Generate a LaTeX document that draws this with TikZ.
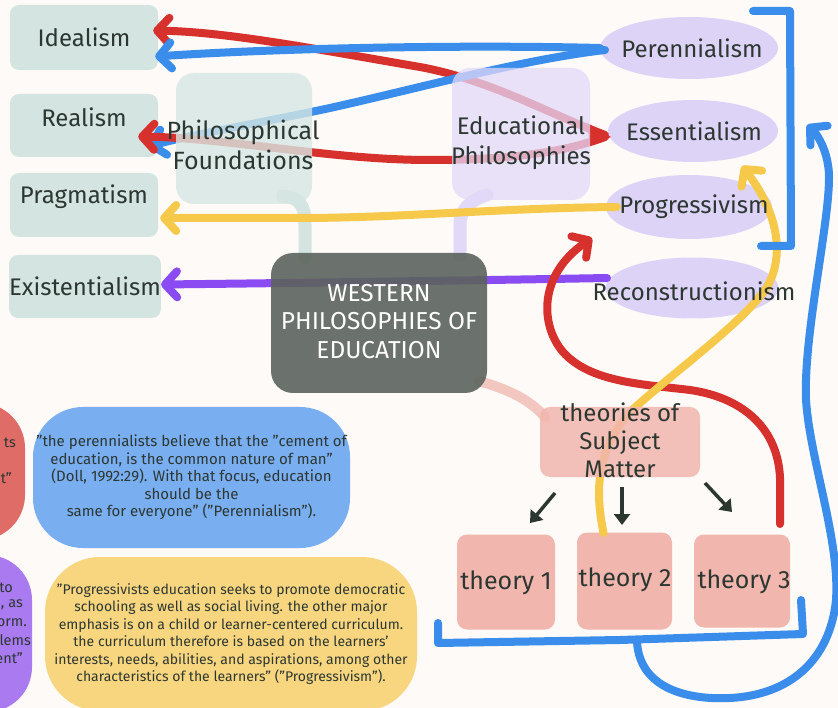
\documentclass[tikz,border=0pt]{standalone}
\usepackage{fontspec}
\setmainfont{Fira Sans}
\usetikzlibrary{arrows.meta,shapes.geometric}
\definecolor{bgc}{HTML}{FDFAF7}
\definecolor{tealbox}{HTML}{D4E4E1}
\definecolor{pfbox}{HTML}{D6E7E3}
\definecolor{lavell}{HTML}{DDD3F7}
\definecolor{educbox}{HTML}{E2D9F8}
\definecolor{darkbox}{HTML}{5C635D}
\definecolor{pinkbox}{HTML}{F1B6AE}
\definecolor{pinkline}{HTML}{F3C6C0}
\definecolor{redc}{HTML}{D7312D}
\definecolor{bluec}{HTML}{3A8DEB}
\definecolor{yellowc}{HTML}{F6C94A}
\definecolor{purplec}{HTML}{8A4CF2}
\definecolor{inkc}{HTML}{2D3732}
\definecolor{qblue}{HTML}{79AEF0}
\definecolor{qyellow}{HTML}{F8D67F}
\definecolor{qred}{HTML}{E06C68}
\definecolor{qpurple}{HTML}{A97AF0}
\begin{document}
\begin{tikzpicture}[x=1pt,y=-1pt,
  lbox/.style={fill=tealbox, draw=none, rounded corners=9pt, inner sep=0pt,
    text=inkc, font=\fontsize{24}{28}\selectfont},
  lavel/.style={ellipse, fill=lavell, draw=none, inner sep=0pt},
  tbox/.style={fill=pinkbox, draw=none, rounded corners=10pt, inner sep=0pt},
  labeltext/.style={text=inkc, font=\fontsize{24}{30}\selectfont, align=center, inner sep=0pt},
  quote/.style={draw=none, inner sep=0pt, text=inkc, align=center,
    font=\fontsize{15}{17.5}\selectfont},
  frag/.style={text=inkc, inner sep=0pt, anchor=east, font=\fontsize{14.5}{17.5}\selectfont},
  arr/.style={line width=8pt, line cap=round, line join=round,
    -{Straight Barb[round,length=12pt,width=26pt]}},
  plain/.style={line width=8pt, line cap=round, line join=round},
  darkarrow/.style={draw=inkc, line width=3.5pt, -{Triangle[length=11pt,width=16pt]}},
  paleline/.style={line width=13pt, line cap=round, line join=round}
]
\clip (0,0) rectangle (838,708);
\fill[bgc] (0,0) rectangle (838,708);

% quote boxes
\node[quote, fill=qred, rounded corners=45pt, minimum width=125pt, minimum height=137pt] (quotered) at (-37.5,471.5) {};
\node[frag] (qr1) at (16,443) {ts};
\node[frag] (qr2) at (12,478) {t"};
\node[quote, fill=qpurple, rounded corners=45pt, minimum width=132pt, minimum height=157pt] (quotepurple) at (-34,633.5) {};
\node[frag] (qp1) at (13,588) {to};
\node[frag] (qp2) at (23,605) {, as};
\node[frag] (qp3) at (27,623) {orm.};
\node[frag] (qp4) at (31,640) {lems};
\node[frag] (qp5) at (23,658) {ent"};
\node[quote, fill=qblue, rounded corners=50pt, minimum width=317pt, minimum height=141pt] (quoteblue) at (191.5,477.5)
  {"the perennialists believe that the "cement of\\education, is the common nature of man"\\(Doll, 1992:29). With that focus, education\\should be the\\same for everyone" ("Perennialism").};
\node[quote, fill=qyellow, rounded corners=55pt, minimum width=372pt, minimum height=154pt, font=\fontsize{14}{17.4}\selectfont] (quoteyellow) at (231,634)
  {"Progressivists education seeks to promote democratic\\schooling as well as social living. the other major\\emphasis is on a child or learner-centered curriculum.\\the curriculum therefore is based on the learners'\\interests, needs, abilities, and aspirations, among other\\characteristics of the learners" ("Progressivism").};

% left boxes
\node[lbox, minimum width=148pt, minimum height=65pt] (idealism) at (84,37.5) {Idealism};
\node[lbox, minimum width=148pt, minimum height=63pt] (realism) at (84,125.5) {\raisebox{8pt}[\height][\depth]{Realism}};
\node[lbox, minimum width=148pt, minimum height=64pt] (pragmatism) at (84,205) {\raisebox{8pt}[\height][\depth]{Pragmatism}};
\node[lbox, minimum width=150pt, minimum height=63pt] (existentialism) at (85,286.5) {Existentialism};

% ellipses
\node[lavel, minimum width=178pt, minimum height=62pt] (perennialism) at (689,48) {};
\node[lavel, minimum width=170pt, minimum height=62pt] (essentialism) at (693,131) {};
\node[lavel, minimum width=166pt, minimum height=64pt] (progressivism) at (689,207) {};
\node[lavel, minimum width=173pt, minimum height=61pt] (reconstr) at (692,288) {};

% hub box centres
\coordinate (pfc) at (244,138.5);
\coordinate (epc) at (521,134);
\coordinate (wc) at (379,323);
\coordinate (tc) at (620,442);

% pale connectors
\draw[paleline, draw=tealbox] ([shift={(39,57.5)}]pfc) .. controls (300,198) and (305,205) .. (305,225) -- ([shift={(-74,-65)}]wc);
\draw[paleline, draw=educbox] ([shift={(-34,61)}]epc) .. controls (470,200) and (460,210) .. (460,225) -- ([shift={(81,-68)}]wc);
\draw[paleline, line width=10pt, draw=pinkline] ([shift={(100,58)}]wc) .. controls (510,390) and (530,400) .. ([shift={(-75,-25)}]tc);

% coloured arrows
\fill[redc] (587,123) -- (611,137) -- (590,146) -- cycle;
\draw[arr, draw=redc] ([shift={(-88,4)}]essentialism.center) .. controls (545,112) and (490,80) .. (420,67) .. controls (320,50) and (230,32) .. ([shift={(-5,-7)}]idealism.east);
\draw[arr, draw=bluec] (perennialism.west) .. controls (480,45) and (300,47) .. ([shift={(-3,19)}]idealism.east);
\draw[arr, draw=bluec] ([shift={(-84,2)}]perennialism.center) .. controls (520,60) and (420,88) .. (330,108) .. controls (250,125) and (190,135) .. ([shift={(-10,21)}]realism.east);
\draw[arr, draw=redc] ([shift={(-88,6)}]essentialism.center) .. controls (570,150) and (520,160) .. (430,160) .. controls (330,160) and (230,138) .. ([shift={(-20,11)}]realism.east);
\draw[arr, draw=yellowc] ([shift={(-72,0)}]progressivism.center) .. controls (500,208) and (400,218) .. (300,218) -- ([shift={(2,13)}]pragmatism.east);
\draw[arr, draw=purplec] ([shift={(-85,-10)}]reconstr.center) .. controls (500,280) and (300,283) .. ([shift={(0,-2)}]existentialism.east);

% pink theory boxes
\node[tbox, minimum width=98pt, minimum height=95pt] (theory1) at (506,582) {};
\node[tbox, minimum width=95pt, minimum height=97pt] (theory2) at (624.5,581) {};
\node[tbox, minimum width=96pt, minimum height=93pt] (theory3) at (742,581) {};

\draw[arr, draw=redc] ([shift={(38,-57)}]theory3.center) -- (780,478) .. controls (778,430) and (745,398) .. (690,390) .. controls (640,384) and (590,382) .. (563,352) .. controls (540,325) and (538,275) .. ([shift={(-97,31)}]progressivism.center);
\draw[arr, draw=yellowc] ([shift={(-21,-48)}]theory2.center) .. controls (597,500) and (592,455) .. (630,412) .. controls (670,375) and (740,325) .. (765,290) .. controls (785,260) and (780,215) .. ([shift={(49,35)}]essentialism.center);

% semi-transparent hub boxes
\node[fill=pfbox, fill opacity=0.8, text opacity=1, rounded corners=18pt, minimum width=136pt, minimum height=131pt, inner sep=0pt] (philfound) at (pfc) {};
\node[fill=educbox, fill opacity=0.75, text opacity=1, rounded corners=18pt, minimum width=138pt, minimum height=132pt, inner sep=0pt] (educphil) at (epc) {};
\node[fill=darkbox, fill opacity=0.9, text opacity=1, rounded corners=22pt, minimum width=216pt, minimum height=140pt, inner sep=0pt] (western) at (wc) {};
\node[tbox, fill opacity=0.85, text opacity=1, minimum width=160pt, minimum height=70pt] (theories) at (tc) {};

% dark arrows
\draw[darkarrow] ([shift={(-65,51)}]theories.center) -- ([shift={(24,-59)}]theory1.center);
\draw[darkarrow] ([shift={(2,45)}]theories.center) -- ([shift={(-2.5,-56)}]theory2.center);
\draw[darkarrow] ([shift={(85,41)}]theories.center) -- ([shift={(-10,-69)}]theory3.center);

% blue brackets and loop
\draw[plain, draw=bluec] (753,11) -- (790,11) -- (791,246) -- (761,246);
\draw[plain, draw=bluec] (438,623) -- (438,643) -- (620,640) -- (803,634) -- (801,600);
\draw[arr, draw=bluec] (637,642) .. controls (640,690) and (690,700) .. (730,698) .. controls (790,695) and (830,660) .. (836,600) .. controls (840,540) and (810,460) .. (806,400) .. controls (803,330) and (835,200) .. (828,165) .. controls (825,145) and (815,132) .. (807,125);

% texts
\node[labeltext, font=\fontsize{25}{30}\selectfont] (philfound-t) at (243,145) {Philosophical\\Foundations};
\node[labeltext] (educphil-t) at (521,143) {Educational\\Philosophies};
\node[labeltext, text=white, font=\fontsize{24.5}{28.5}\selectfont] (western-t) at (379,321.5) {WESTERN\\PHILOSOPHIES OF\\EDUCATION};
\node[labeltext, font=\fontsize{24}{28}\selectfont] (theories-t) at (620,440) {theories of\\Subject\\Matter};
\node[labeltext] (perennialism-t) at (692,48) {Perennialism};
\node[labeltext] (essentialism-t) at (694,131) {Essentialism};
\node[labeltext] (progressivism-t) at (694,207) {Progressivism};
\node[labeltext] (reconstr-t) at (694,291) {Reconstructionism};
\node[labeltext, font=\fontsize{25}{30}\selectfont] (theory1-t) at (506,583) {theory 1};
\node[labeltext, font=\fontsize{25}{30}\selectfont] (theory2-t) at (625,580) {theory 2};
\node[labeltext, font=\fontsize{25}{30}\selectfont] (theory3-t) at (744,582) {theory 3};
\end{tikzpicture}
\end{document}
